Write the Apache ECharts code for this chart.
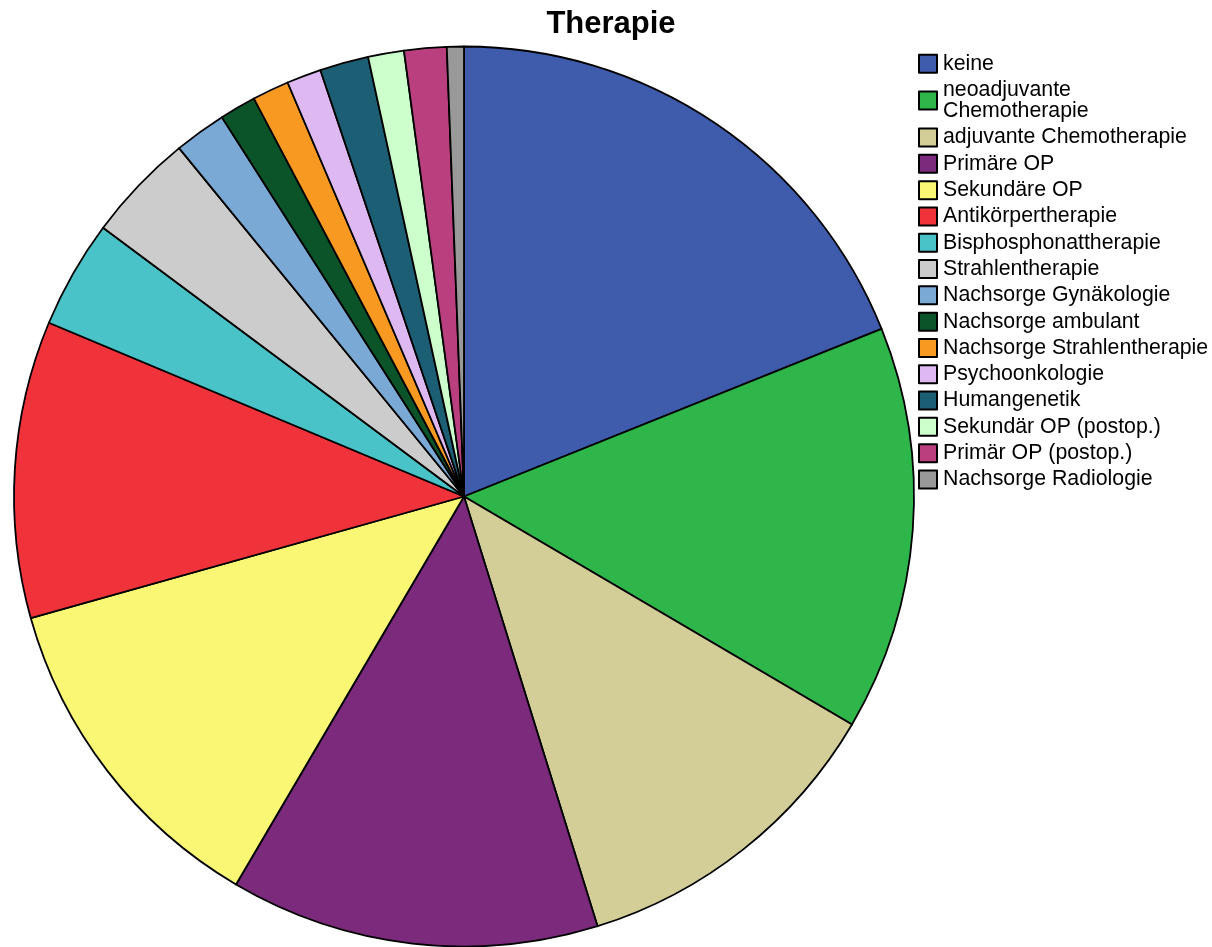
<!DOCTYPE html>
<html>
<head>
<meta charset="utf-8">
<script src="https://cdn.jsdelivr.net/npm/echarts@6/dist/echarts.min.js"></script>
<style>
html,body{margin:0;padding:0;background:#fff;}
#chart{width:1212px;height:947px;}
</style>
</head>
<body>
<div id="chart"></div>
<script>
const categories = [
  "keine", "neoadjuvante Chemotherapie", "adjuvante Chemotherapie", "Primäre OP",
  "Sekundäre OP", "Antikörpertherapie", "Bisphosphonattherapie", "Strahlentherapie",
  "Nachsorge Gynäkologie", "Nachsorge ambulant", "Nachsorge Strahlentherapie",
  "Psychoonkologie", "Humangenetik", "Sekundär OP (postop.)", "Primär OP (postop.)",
  "Nachsorge Radiologie"
];
const values = [18.92, 14.53, 11.75, 13.25, 12.19, 10.66, 3.88, 3.90, 1.87, 1.31, 1.32, 1.24, 1.75, 1.29, 1.52, 0.61];
const colors = ["#3F5BAB", "#2EB64A", "#D3CE98", "#7B2A7C", "#FAF775", "#F0333B", "#49C3C7", "#CCCCCC",
  "#7BA9D6", "#0B542A", "#F89A21", "#DDB8F1", "#1C5E74", "#CCFFCC", "#BA3F7E", "#999999"];
const legendLabels = { "neoadjuvante Chemotherapie": "neoadjuvante\nChemotherapie" };
const titleText = "Therapie";

const chart = echarts.init(document.getElementById('chart'), null, {renderer: 'canvas'});
chart.setOption({
  animation: false,
  color: colors,
  title: {
    text: titleText,
    left: 611, top: 9,
    textAlign: 'center',
    padding: 0,
    textStyle: {fontFamily: 'Liberation Sans', fontWeight: 'bold', fontSize: 31, color: '#000'}
  },
  legend: {
    orient: 'vertical',
    left: 918, top: 53,
    padding: 0,
    itemGap: 5,
    itemWidth: 18, itemHeight: 18,
    icon: 'rect',
    selectedMode: false,
    itemStyle: {borderColor: '#000', borderWidth: 2},
    formatter: n => legendLabels[n] || n,
    textStyle: {fontFamily: 'Liberation Sans', fontSize: 21.3, lineHeight: 21.3, color: '#000', padding: [0,0,0,1]}
  },
  series: [{
    type: 'pie',
    center: [464, 496.5],
    radius: 450,
    startAngle: 90,
    clockwise: true,
    avoidLabelOverlap: false,
    label: {show: false},
    labelLine: {show: false},
    emphasis: {disabled: true},
    itemStyle: {borderColor: '#000', borderWidth: 1.8},
    data: categories.map((c, i) => ({name: c, value: values[i]}))
  }]
});
</script>
</body>
</html>
